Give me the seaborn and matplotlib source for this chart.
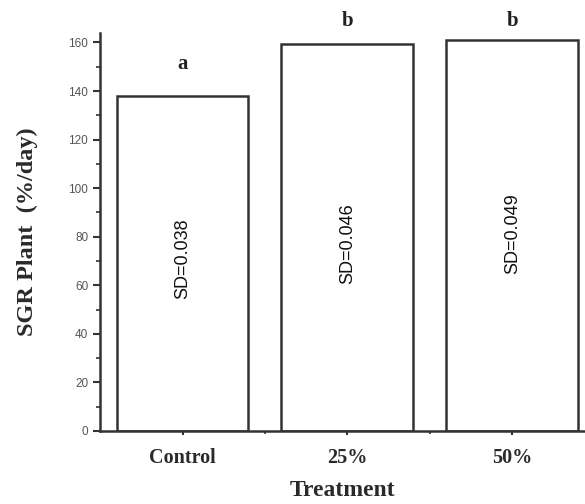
import matplotlib
matplotlib.use("Agg")
import matplotlib.pyplot as plt
import seaborn as sns
import pandas as pd
from matplotlib.ticker import MultipleLocator

treatments = ["Control", "25%", "50%"]
sgr_values = [138, 159.5, 161]
group_letters = ["a", "b", "b"]
letter_y = [151, 169, 169]
sd_labels = ["SD=0.038", "SD=0.046", "SD=0.049"]
sd_label_y = [71, 77.3, 81.4]

df = pd.DataFrame({"Treatment": treatments, "SGR": sgr_values})

sns.set_style("ticks")
plt.rcParams["font.family"] = ["Liberation Serif", "DejaVu Serif"]

fig = plt.figure(figsize=(5.85, 5.04), dpi=100)
ax = fig.add_axes([0.171, 0.145, 0.829, 0.79])

sns.barplot(data=df, x="Treatment", y="SGR", ax=ax, color="white",
            edgecolor="#333333", linewidth=1.8, width=0.8)

ax.set_ylim(0, 164)
ax.set_xlim(-0.5, 2.44)
ax.yaxis.set_major_locator(MultipleLocator(20))
ax.yaxis.set_minor_locator(MultipleLocator(10))
ax.set_xticks([0, 1, 2])
ax.set_xticks([0.5, 1.5], minor=True)

for s in ["top", "right"]:
    ax.spines[s].set_visible(False)
for s in ["left", "bottom"]:
    ax.spines[s].set_linewidth(1.8)
    ax.spines[s].set_color("#333333")

ax.tick_params(axis="y", which="major", length=5, width=1.5, color="#333333",
               labelsize=8.5, labelcolor="#555555", direction="out")
ax.tick_params(axis="y", which="minor", length=3, width=1.2, color="#333333",
               direction="out")
ax.tick_params(axis="x", which="major", length=3, width=1.5, color="#333333",
               labelsize=14.5, labelcolor="#2a2a2a", direction="out", pad=9)
ax.tick_params(axis="x", which="minor", length=2, width=1.2, color="#333333",
               direction="out")
for lbl in ax.get_yticklabels():
    lbl.set_family(["Liberation Sans", "DejaVu Sans"])
for lbl in ax.get_xticklabels():
    lbl.set_fontweight("bold")

ax.set_xlabel("Treatment", fontsize=17, fontweight="bold", color="#2a2a2a", labelpad=9)
ax.set_ylabel("SGR Plant  (%/day)", fontsize=17.5, fontweight="bold", color="#2a2a2a", labelpad=22)

for i, (ly, letter, sd, sy) in enumerate(zip(letter_y, group_letters, sd_labels, sd_label_y)):
    ax.text(i, ly, letter, ha="center", va="center", fontsize=15,
            fontweight="bold", color="#222222", clip_on=False)
    ax.text(i, sy, sd, rotation=90, ha="center", va="center", fontsize=13,
            family=["Liberation Sans", "DejaVu Sans"], color="#111111")

fig.savefig("out.png", dpi=100)
